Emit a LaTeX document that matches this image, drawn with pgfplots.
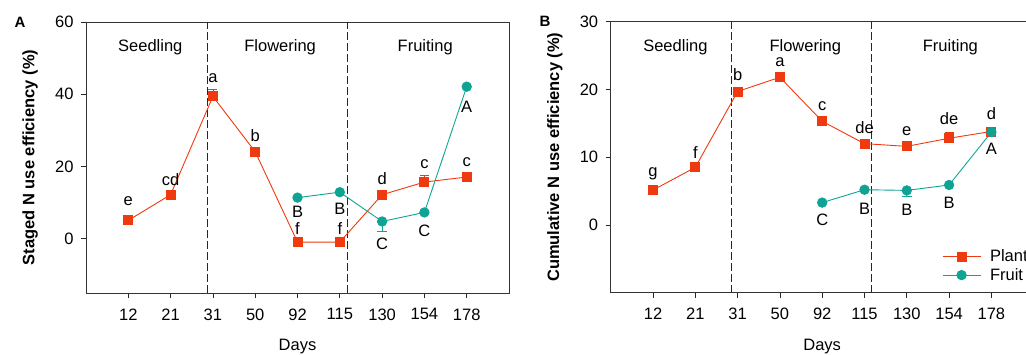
\documentclass[border=0pt]{standalone}
\usepackage{fontspec}
\setmainfont{Liberation Sans}
\usepackage{pgfplots}
\pgfplotsset{compat=1.18}
\definecolor{plantc}{HTML}{EE3A0E}
\definecolor{fruitc}{HTML}{0EA393}
\tikzset{dline/.style={black!85, line width=0.8pt, dash pattern=on 8pt off 3pt}}
\pgfplotsset{
  myax/.style={
    scale only axis, width=423pt, height=271pt,
    xmin=-1, xmax=9,
    xtick={0,...,8},
    xticklabels={12,21,31,50,92,115,130,154,178},
    tick pos=left, tick align=outside,
    major tick length=5pt,
    tick style={black!85, line width=0.7pt},
    axis line style={black!80, line width=0.8pt},
    /pgf/number format/assume math mode=true,
    xticklabel style={yshift=-7pt},
    yticklabel style={xshift=-4pt},
    xlabel={Days},
    xlabel style={at={(axis description cs:0.5,-0.199)}, anchor=center},
    ylabel style={at={(axis description cs:-0.132,0.5)}, anchor=center, font=\fontsize{16.5}{19}\selectfont\bfseries},
    clip=false,
  },
  plantp/.style={color=plantc, line width=0.9pt, mark=square*, mark size=4.5pt,
    error bars/y dir=both, error bars/y explicit,
    error bars/error bar style={plantc, line width=0.8pt}},
  fruitp/.style={color=fruitc, line width=0.9pt, mark=*, mark size=4.7pt,
    error bars/y dir=both, error bars/y explicit,
    error bars/error bar style={fruitc, line width=0.8pt}},
}
\begin{document}
\begin{tikzpicture}[x=1pt,y=1pt,font=\fontsize{16.5}{19}\selectfont]
\useasboundingbox (0,0) rectangle (1026,354);
% Panel A
\begin{axis}[myax, at={(86pt,61pt)}, anchor=south west,
  ymin=-15, ymax=60, ytick={0,20,40,60},
  ylabel={Staged N use efficiency (\%)}]
\draw[dline] (axis cs:1.88,-15) -- (axis cs:1.88,60);
\draw[dline] (axis cs:5.17,-15) -- (axis cs:5.17,60);
\addplot[plantp] coordinates {
 (0,5.1) (1,12.2) (2,39.4) += (0,2.0) -= (0,0) (3,24.1) += (0,0.7) -= (0,0)
 (4,-0.9) (5,-0.9) (6,12.2) += (0,0.6) -= (0,0) (7,15.7) += (0,1.8) -= (0,0)
 (8,17.1) += (0,0.6) -= (0,0)};
\addplot[fruitp] coordinates {
 (4,11.4) (5,12.9) (6,4.8) += (0,0) -= (0,2.6) (7,7.3) (8,42.1)};
\node at (axis cs:0.52,52.9) {Seedling};
\node at (axis cs:3.59,52.9) {Flowering};
\node at (axis cs:7.02,52.9) {Fruiting};
\node at (axis cs:0,10.3) {e};
\node at (axis cs:1,16.3) {cd};
\node at (axis cs:2,44.4) {a};
\node at (axis cs:3,28.6) {b};
\node at (axis cs:4,2.8) {f};
\node at (axis cs:5,2.8) {f};
\node at (axis cs:6,16.6) {d};
\node at (axis cs:7,20.6) {c};
\node at (axis cs:8,21.2) {c};
\node at (axis cs:4,7.6) {B};
\node at (axis cs:5,8.3) {B};
\node at (axis cs:6,-1.5) {C};
\node at (axis cs:7,2.3) {C};
\node at (axis cs:8,36.6) {A};
\end{axis}
\node[font=\fontsize{15}{17}\selectfont\bfseries] at (20,332) {A};
% Panel B
\begin{axis}[myax, at={(610.7pt,61.3pt)}, anchor=south west,
  ymin=-10, ymax=30, ytick={0,10,20,30},
  ylabel={Cumulative N use efficiency (\%)},
  legend style={at={(axis description cs:0.783,0.166)}, anchor=north west, draw=none, fill=none,
    inner sep=0pt, row sep=1pt, column sep=7pt, nodes={inner sep=2pt}},
  legend cell align=left,
  legend image code/.code={\draw[mark repeat=2,mark phase=2,#1] plot coordinates {(0pt,0pt) (19pt,0pt) (38pt,0pt)};}]
\draw[dline] (axis cs:1.85,-10) -- (axis cs:1.85,30);
\draw[dline] (axis cs:5.17,-10) -- (axis cs:5.17,30);
\addplot[plantp] coordinates {
 (0,5.15) (1,8.5) (2,19.7) += (0,0.3) -= (0,0) (3,21.8) += (0,0.8) -= (0,0)
 (4,15.3) += (0,0.5) -= (0,0) (5,12.0) += (0,0.4) -= (0,0) (6,11.6) += (0,0.3) -= (0,0)
 (7,12.8) += (0,0.9) -= (0,0) (8,13.8) += (0,0.5) -= (0,0)};
\addplot[fruitp] coordinates {
 (4,3.3) (5,5.2) (6,5.1) += (0,0) -= (0,0.8) (7,5.9) (8,13.7)};
\legend{Plant,Fruit}
\node at (axis cs:0.53,26.3) {Seedling};
\node at (axis cs:3.6,26.3) {Flowering};
\node at (axis cs:7.03,26.3) {Fruiting};
\node at (axis cs:0,7.6) {g};
\node at (axis cs:1,10.7) {f};
\node at (axis cs:2,22.2) {b};
\node at (axis cs:3,24.1) {a};
\node at (axis cs:4,17.5) {c};
\node at (axis cs:5,14.3) {de};
\node at (axis cs:6,13.9) {e};
\node at (axis cs:7,15.7) {de};
\node at (axis cs:8,16.5) {d};
\node at (axis cs:4,0.8) {C};
\node at (axis cs:5,2.4) {B};
\node at (axis cs:6,2.3) {B};
\node at (axis cs:7,3.3) {B};
\node at (axis cs:8,11.2) {A};
\end{axis}
\node[font=\fontsize{15}{17}\selectfont\bfseries] at (545,333) {B};
\end{tikzpicture}
\end{document}
